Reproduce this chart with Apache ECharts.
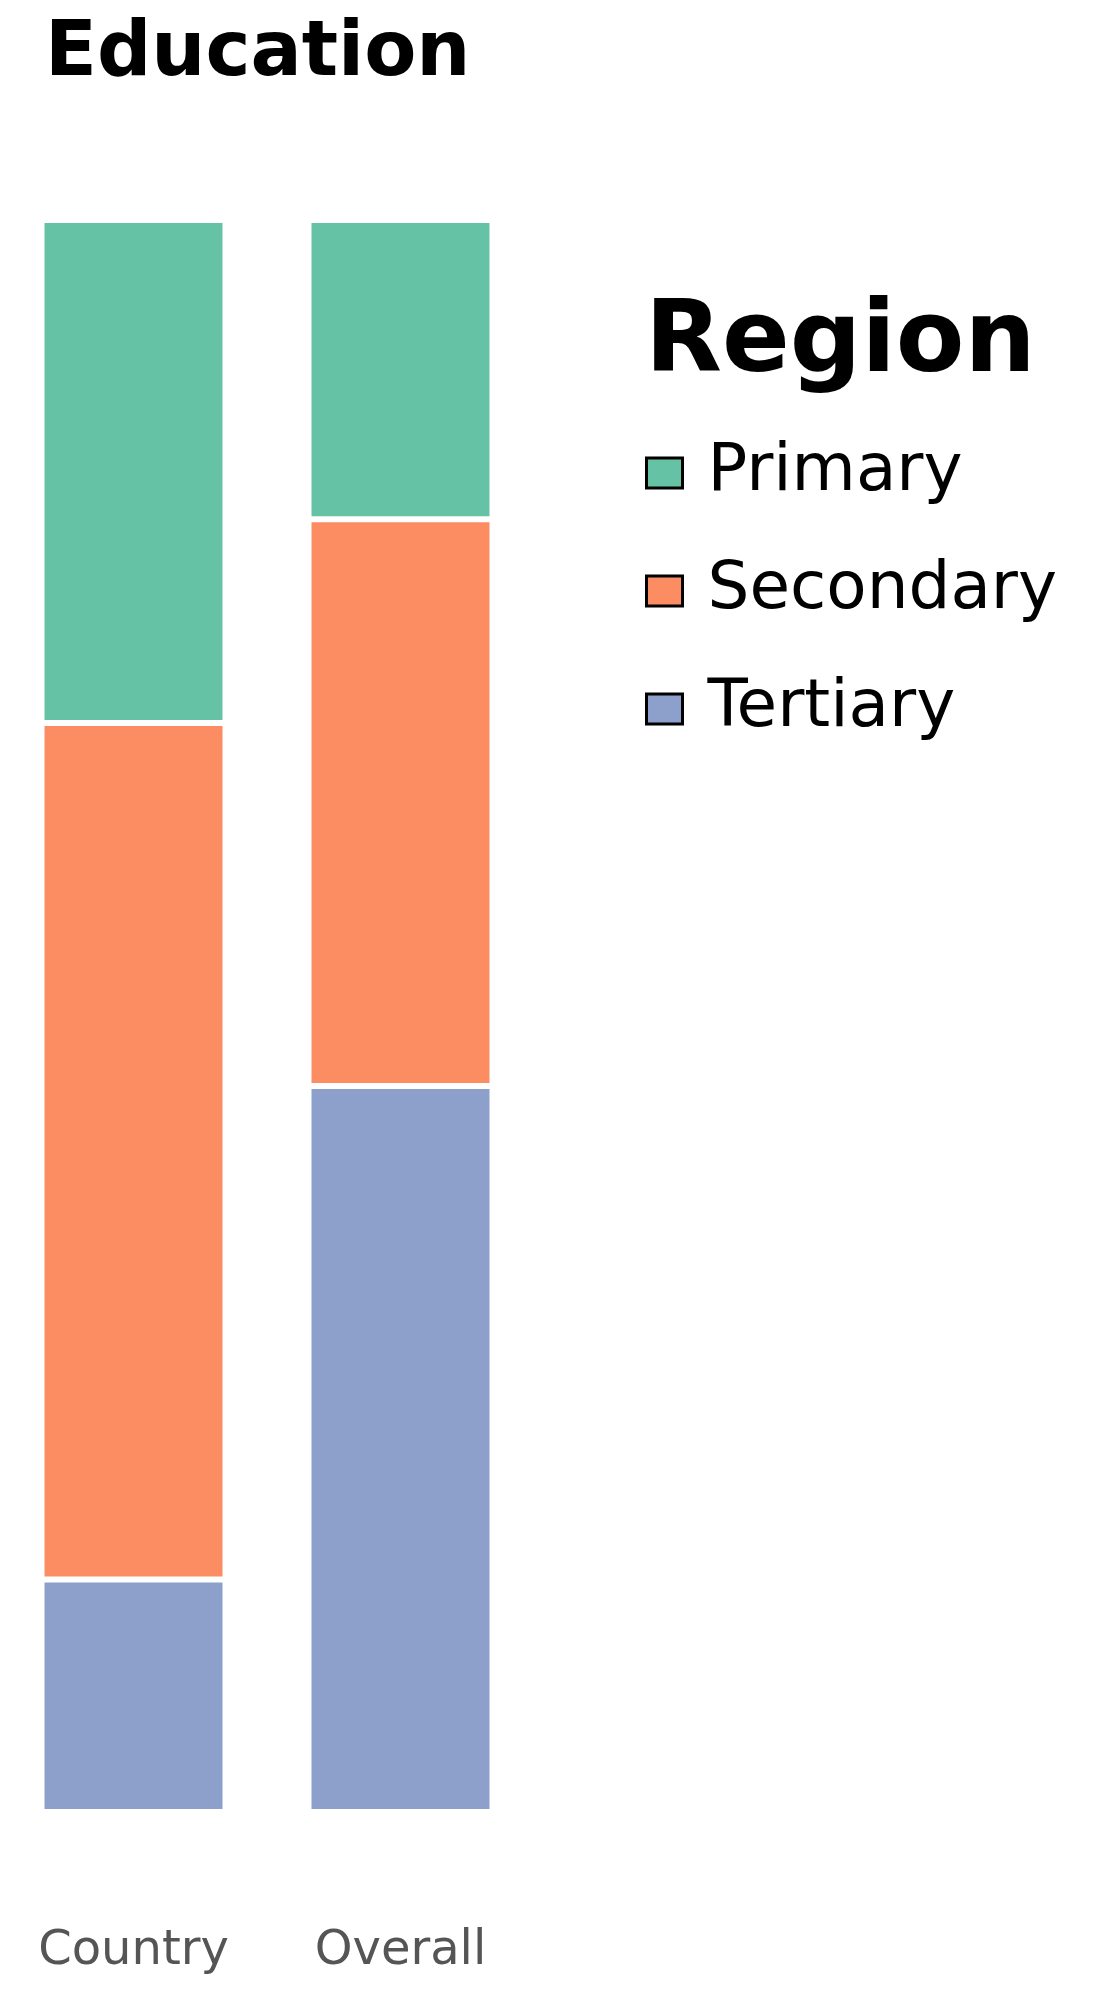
<!DOCTYPE html>
<html>
<head>
<meta charset="utf-8">
<script src="https://cdn.jsdelivr.net/npm/echarts@6/dist/echarts.min.js"></script>
<style>html,body{margin:0;background:#fff}#c{width:1120px;height:1990px}</style>
</head>
<body>
<div id="c"></div>
<script>
// values (percent of each bar)
const categories = ['Country', 'Overall']
const seriesNames = ['Tertiary', 'Secondary', 'Primary']
const tertiary = [14.6, 45.6]
const secondary = [53.8, 35.6]
const primary = [31.6, 18.8]
const colors = { Primary: '#66c2a5', Secondary: '#fc8d62', Tertiary: '#8da0cb' }

const values = { Tertiary: tertiary, Secondary: secondary, Primary: primary }
const chart = echarts.init(document.getElementById('c'))
chart.setOption({
  animation: false,
  title: [
    { text: 'Education', left: 40, top: 12, textStyle: { fontFamily: 'DejaVu Sans', fontWeight: 'bold', fontSize: 76, color: '#000' } },
    { text: 'Region', left: 640, top: 290, textStyle: { fontFamily: 'DejaVu Sans', fontWeight: 'bold', fontSize: 100, color: '#000' } }
  ],
  legend: {
    orient: 'vertical', left: 640, top: 435,
    data: ['Primary', 'Secondary', 'Tertiary'],
    itemWidth: 36, itemHeight: 30, itemGap: 52,
    icon: 'rect',
    itemStyle: { borderColor: '#000', borderWidth: 3 },
    textStyle: { fontFamily: 'DejaVu Sans', fontSize: 66, color: '#000', padding: [30, 0, 0, 20] }
  },
  grid: { left: 0, width: 534, top: 220, bottom: 178 },
  xAxis: {
    type: 'category', data: categories,
    axisLine: { show: false }, axisTick: { show: false },
    axisLabel: { margin: 116, fontFamily: 'DejaVu Sans', fontSize: 48, color: '#555' }
  },
  yAxis: { type: 'value', min: 0, max: 100, show: false, splitLine: { show: false } },
  series: seriesNames.map(n => ({
    name: n, type: 'bar', stack: 'a', barWidth: 184,
    data: values[n],
    itemStyle: { color: colors[n], borderColor: '#fff', borderWidth: 3 }
  }))
})
</script>
</body>
</html>
